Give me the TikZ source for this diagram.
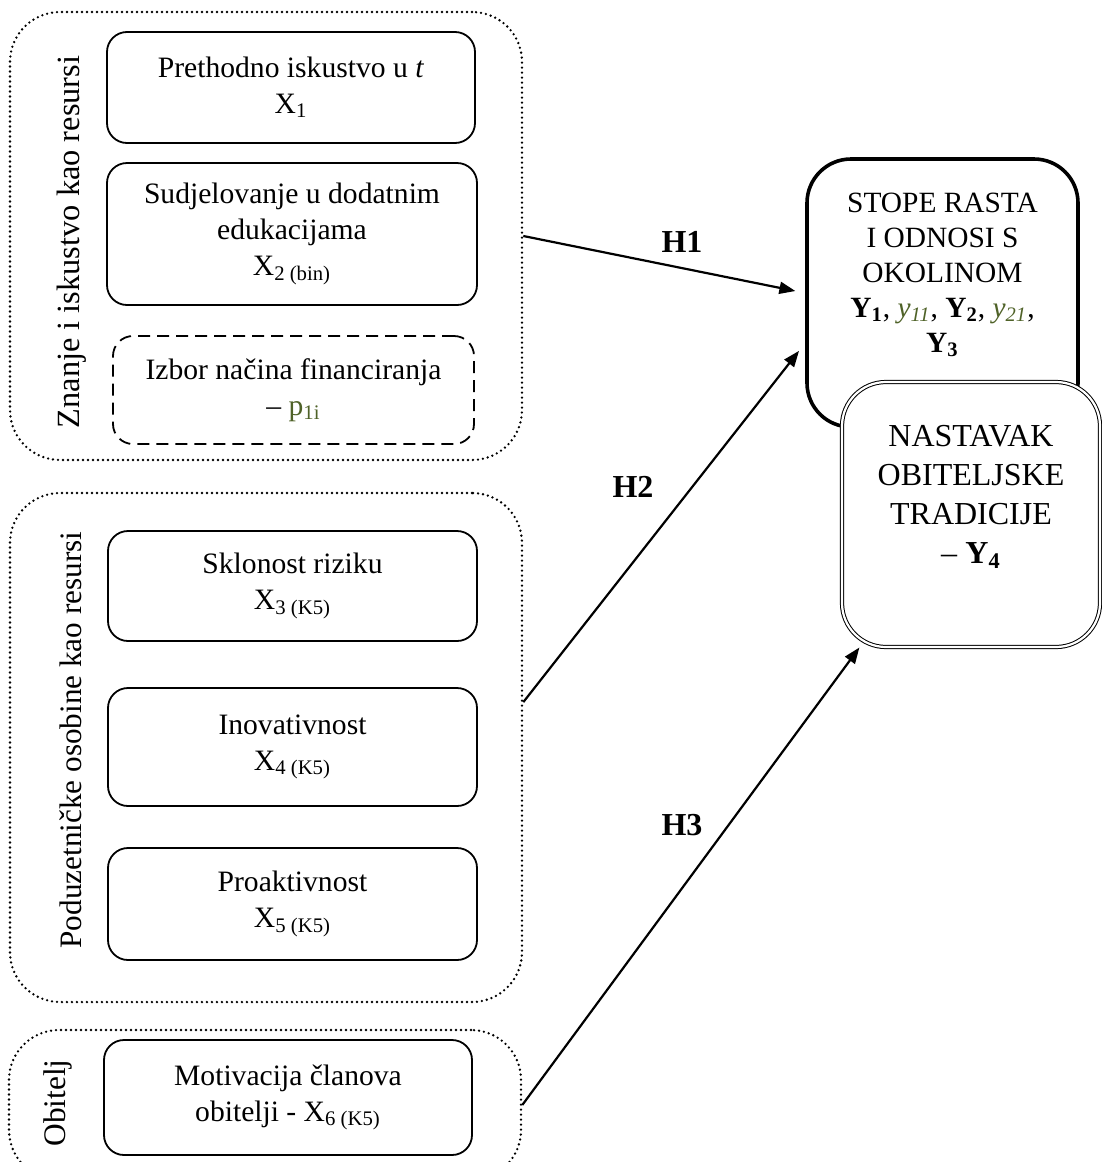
\documentclass[tikz,border=0pt]{standalone}
\usepackage{fontspec}
\setmainfont{Liberation Serif}
\usepackage{xcolor}
\usepackage{tikz}
\usetikzlibrary{arrows, arrows.meta, positioning, calc}
\definecolor{olivetxt}{RGB}{79,98,40}

\begin{document}
\begin{tikzpicture}[x=0.5pt, y=-0.5pt,
		every node/.style={font=\fontsize{14.8}{18}\selectfont, align=center, inner sep=0pt},
		grp/.style={draw, line width=1.3pt, dash pattern=on 0pt off 2.5pt, line cap=round, rounded corners=25pt},
		var/.style={draw, line width=0.9pt, rounded corners=10pt},
		dep/.style={draw, rounded corners=22pt, fill=white},
		hyp/.style={-{Triangle[length=8pt,width=6pt]}, line width=1.1pt},
		hlab/.style={font=\fontsize{16}{18}\selectfont\bfseries}]
			\useasboundingbox (0,0) rectangle (1102,1162);
			\clip (0,0) rectangle (1102,1162);
			% resource groups
			\node [grp, minimum width=256pt, minimum height=224pt] (g1) at (266,236) {};
			\node [grp, minimum width=256pt, minimum height=254.5pt] (g2) at (266,747.5) {};
			\node [grp, minimum width=256pt, minimum height=75pt] (g3) at (265,1105) {};
			\node [rotate=90, font=\fontsize{16.2}{18}\selectfont] (lz) at (72,242) {Znanje i iskustvo kao resursi};
			\node [rotate=90, font=\fontsize{15.6}{18}\selectfont] (lp) at (71,740) {Poduzetničke osobine kao resursi};
			\node [rotate=90, font=\fontsize{15.7}{18}\selectfont] (lo) at (58,1103) {Obitelj};
			% variables
			\node [var, minimum width=184pt, minimum height=55.5pt] (x1) at (291,87.5) {Prethodno iskustvo u \textit{t}\\X\textsubscript{1}};
			\node [var, minimum width=185pt, minimum height=71pt] (x2) at (292,234) {Sudjelovanje u dodatnim\\edukacijama\\X\textsubscript{2 (bin)}};
			\node [var, dashed, dash pattern=on 6pt off 3.5pt, minimum width=180.5pt, minimum height=54pt] (x3) at (293.5,390) {Izbor načina financiranja\\– {\color{olivetxt}p\textsubscript{1i}}};
			\node [var, minimum width=184.5pt, minimum height=55pt] (k1) at (292.5,586) {Sklonost riziku\\X\textsubscript{3 (K5)}};
			\node [var, minimum width=184.5pt, minimum height=59pt] (k2) at (292.5,747) {Inovativnost\\X\textsubscript{4 (K5)}};
			\node [var, minimum width=184.5pt, minimum height=56pt] (k3) at (292.5,904) {Proaktivnost\\X\textsubscript{5 (K5)}};
			\node [var, minimum width=184pt, minimum height=57.5pt] (m1) at (288,1097.5) {Motivacija članova\\obitelji - X\textsubscript{6 (K5)}};
			% outcomes
			\node [dep, line width=1.8pt, minimum width=135.5pt, minimum height=134pt] (y1) at (942.5,293) {};
			\node [below=17.5pt of y1.north, font=\fontsize{14.7}{17.5}\selectfont] (y1t) {STOPE RASTA\\I ODNOSI S\\OKOLINOM\\\textbf{Y\textsubscript{1}}, {\color{olivetxt}\textit{y\textsubscript{11}}}, \textbf{Y\textsubscript{2}}, {\color{olivetxt}\textit{y\textsubscript{21}}},\\\textbf{Y\textsubscript{3}}};
			\node [dep, double, double distance=1.1pt, line width=0.5pt, minimum width=129pt, minimum height=132.5pt] (y2) at (971,514.5) {};
			\node [below=21.5pt of y2.north, font=\fontsize{16}{19.5}\selectfont] (y2t) {NASTAVAK\\OBITELJSKE\\TRADICIJE\\– \textbf{Y\textsubscript{4}}};
			% hypotheses
			\draw [hyp, shorten >=5pt] (g1.east) to (y1.west);
			\draw [hyp, shorten >=5pt] (g2.10) to (y1.200);
			\draw [hyp] (g3.east) to (y2.230);
			\node [hlab] (h1) at (682,242) {H1};
			\node [hlab] (h2) at (633,487) {H2};
			\node [hlab] (h3) at (682,825) {H3};
		\end{tikzpicture}
\end{document}
